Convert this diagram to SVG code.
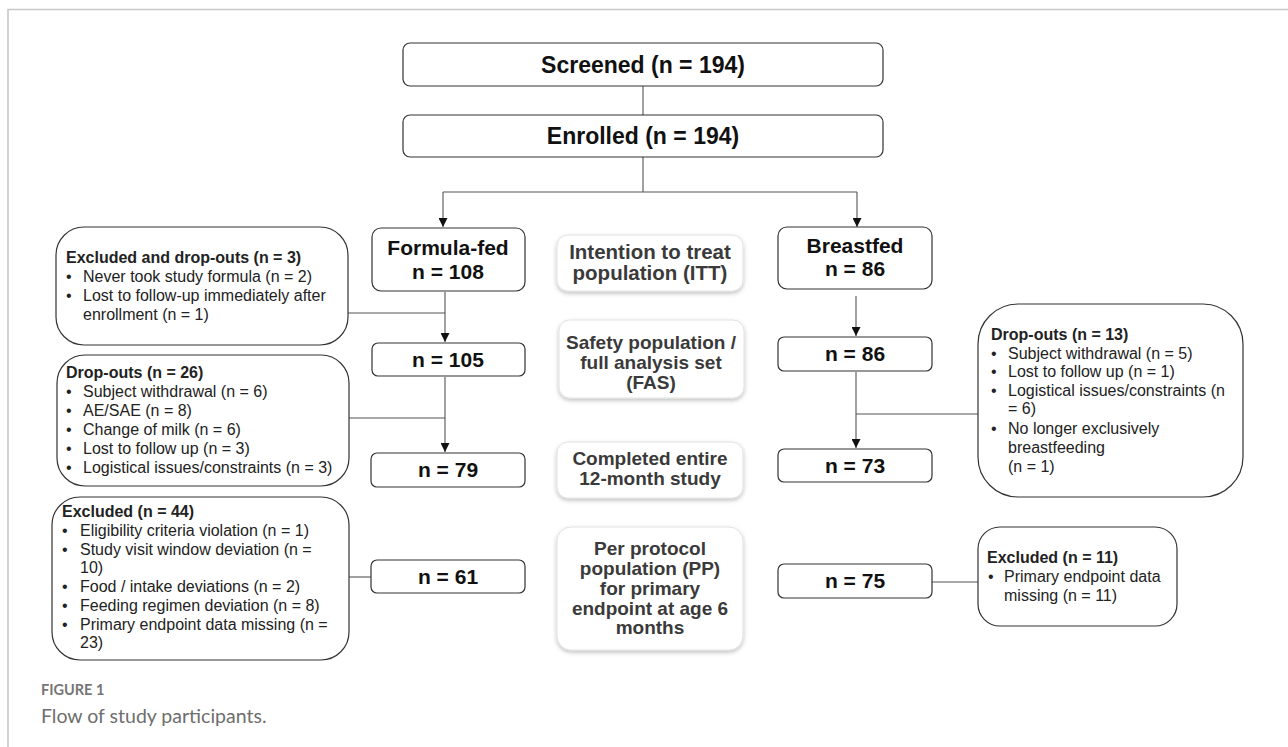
<svg xmlns="http://www.w3.org/2000/svg" width="1288" height="747" viewBox="0 0 1288 747">
<defs>
<marker id="arr" viewBox="0 0 10 10" refX="10" refY="5" markerWidth="9" markerHeight="9" markerUnits="userSpaceOnUse" orient="auto">
<path d="M0,0 L10,5 L0,10 z" fill="#111"/>
</marker>
<filter id="sh" x="-10%" y="-10%" width="120%" height="130%">
<feDropShadow dx="0" dy="2" stdDeviation="2" flood-color="#000" flood-opacity="0.25"/>
</filter>
</defs>
<style>
.box{fill:#fff;stroke:#333;stroke-width:1.2}
.lbl{fill:#fff;stroke:#e2e2e2;stroke-width:1}
.hd{font-family:"Liberation Sans",Arial,sans-serif;font-weight:bold;fill:#111;text-anchor:middle}
.ct{font-family:"Liberation Sans",Arial,sans-serif;font-weight:bold;fill:#3a3a3a;text-anchor:middle;font-size:19px}
.tx{font-family:"Liberation Sans",Arial,sans-serif;font-size:16px;fill:#222}
.tb{font-weight:bold}
.cn{fill:none;stroke:#555;stroke-width:1.1}
</style>
<rect width="1288" height="747" fill="#fff"/>
<path d="M8,747 L8,9.5 L1288,9.5" fill="none" stroke="#c8c8c8" stroke-width="1.6"/>

<g id="connectors">
<line class="cn" x1="643" y1="86" x2="643" y2="115"/>
<path class="cn" d="M643,157 L643,192 M443,192 L857,192"/>
<line class="cn" x1="443" y1="192" x2="443" y2="227" marker-end="url(#arr)"/>
<line class="cn" x1="857" y1="192" x2="857" y2="227" marker-end="url(#arr)"/>
<line class="cn" x1="445" y1="292" x2="445" y2="342" marker-end="url(#arr)"/>
<line class="cn" x1="348" y1="313" x2="445" y2="313"/>
<line class="cn" x1="445" y1="377" x2="445" y2="452" marker-end="url(#arr)"/>
<line class="cn" x1="349" y1="418" x2="445" y2="418"/>
<line class="cn" x1="349" y1="577" x2="371" y2="577"/>
<line class="cn" x1="856" y1="296" x2="856" y2="336" marker-end="url(#arr)"/>
<line class="cn" x1="856" y1="372" x2="856" y2="448" marker-end="url(#arr)"/>
<line class="cn" x1="856" y1="414" x2="978" y2="414"/>
<line class="cn" x1="932" y1="582" x2="978" y2="582"/>
</g>

<g id="screened">
<rect class="box" x="403" y="43" width="480" height="43" rx="7"/>
<text class="hd" x="643" y="73" font-size="23">Screened (n = 194)</text>
</g>
<g id="enrolled">
<rect class="box" x="403" y="115" width="480" height="42" rx="7"/>
<text class="hd" x="643" y="144" font-size="23">Enrolled (n = 194)</text>
</g>

<g id="formula-fed">
<rect class="box" x="372" y="228" width="153" height="63" rx="9"/>
<text class="hd" x="448" y="255" font-size="21">Formula-fed</text>
<text class="hd" x="448" y="279" font-size="21">n = 108</text>
</g>
<g id="ff-105">
<rect class="box" x="372" y="343" width="153" height="33" rx="6"/>
<text class="hd" x="448" y="367" font-size="21">n = 105</text>
</g>
<g id="ff-79">
<rect class="box" x="371" y="453" width="154" height="34" rx="6"/>
<text class="hd" x="448" y="477" font-size="21">n = 79</text>
</g>
<g id="ff-61">
<rect class="box" x="371" y="560" width="154" height="33" rx="6"/>
<text class="hd" x="448" y="584" font-size="21">n = 61</text>
</g>

<g id="breastfed">
<rect class="box" x="778" y="227" width="154" height="62" rx="9"/>
<text class="hd" x="855" y="253" font-size="21">Breastfed</text>
<text class="hd" x="855" y="276" font-size="21">n = 86</text>
</g>
<g id="bf-86">
<rect class="box" x="778" y="337" width="154" height="34" rx="6"/>
<text class="hd" x="855" y="361" font-size="21">n = 86</text>
</g>
<g id="bf-73">
<rect class="box" x="778" y="449" width="154" height="33" rx="6"/>
<text class="hd" x="855" y="473" font-size="21">n = 73</text>
</g>
<g id="bf-75">
<rect class="box" x="778" y="564" width="154" height="34" rx="6"/>
<text class="hd" x="855" y="588" font-size="21">n = 75</text>
</g>

<g id="itt">
<rect class="lbl" x="557" y="235" width="186" height="56" rx="11" filter="url(#sh)"/>
<text class="ct" x="650" y="259" font-size="20.5" style="font-size:20.5px">Intention to treat</text>
<text class="ct" x="650" y="280" style="font-size:20.5px">population (ITT)</text>
</g>
<g id="fas">
<rect class="lbl" x="559" y="320" width="185" height="78" rx="11" filter="url(#sh)"/>
<text class="ct" x="651" y="349">Safety population /</text>
<text class="ct" x="651" y="369">full analysis set</text>
<text class="ct" x="651" y="389">(FAS)</text>
</g>
<g id="completed">
<rect class="lbl" x="557" y="442" width="186" height="56" rx="11" filter="url(#sh)"/>
<text class="ct" x="650" y="465">Completed entire</text>
<text class="ct" x="650" y="485">12-month study</text>
</g>
<g id="pp">
<rect class="lbl" x="557" y="527" width="186" height="123" rx="14" filter="url(#sh)"/>
<text class="ct" x="650" y="555">Per protocol</text>
<text class="ct" x="650" y="575">population (PP)</text>
<text class="ct" x="650" y="595">for primary</text>
<text class="ct" x="650" y="615">endpoint at age 6</text>
<text class="ct" x="650" y="634">months</text>
</g>

<g id="excluded-3">
<rect class="box" x="56" y="227" width="292" height="118" rx="28"/>
<text class="tx tb" x="66" y="263">Excluded and drop-outs (n = 3)</text>
<text class="tx" x="66" y="282">•</text><text class="tx" x="83" y="282">Never took study formula (n = 2)</text>
<text class="tx" x="66" y="301">•</text><text class="tx" x="83" y="301">Lost to follow-up immediately after</text>
<text class="tx" x="83" y="320">enrollment (n = 1)</text>
</g>
<g id="dropouts-26">
<rect class="box" x="57" y="355" width="292" height="131" rx="28"/>
<text class="tx tb" x="66" y="378">Drop-outs (n = 26)</text>
<text class="tx" x="66" y="397">•</text><text class="tx" x="83" y="397">Subject withdrawal (n = 6)</text>
<text class="tx" x="66" y="416">•</text><text class="tx" x="83" y="416">AE/SAE (n = 8)</text>
<text class="tx" x="66" y="435">•</text><text class="tx" x="83" y="435">Change of milk (n = 6)</text>
<text class="tx" x="66" y="454">•</text><text class="tx" x="83" y="454">Lost to follow up (n = 3)</text>
<text class="tx" x="66" y="473">•</text><text class="tx" x="83" y="473">Logistical issues/constraints (n = 3)</text>
</g>
<g id="excluded-44">
<rect class="box" x="52" y="497" width="297" height="163" rx="28"/>
<text class="tx tb" x="62" y="517">Excluded (n = 44)</text>
<text class="tx" x="62" y="536">•</text><text class="tx" x="80" y="536">Eligibility criteria violation (n = 1)</text>
<text class="tx" x="62" y="555">•</text><text class="tx" x="80" y="555">Study visit window deviation (n =</text>
<text class="tx" x="80" y="573">10)</text>
<text class="tx" x="62" y="592">•</text><text class="tx" x="80" y="592">Food / intake deviations (n = 2)</text>
<text class="tx" x="62" y="611">•</text><text class="tx" x="80" y="611">Feeding regimen deviation (n = 8)</text>
<text class="tx" x="62" y="630">•</text><text class="tx" x="80" y="630">Primary endpoint data missing (n =</text>
<text class="tx" x="80" y="648">23)</text>
</g>
<g id="dropouts-13">
<rect class="box" x="978" y="304" width="265" height="193" rx="40"/>
<text class="tx tb" x="991" y="340">Drop-outs (n = 13)</text>
<text class="tx" x="991" y="359">•</text><text class="tx" x="1008" y="359">Subject withdrawal (n = 5)</text>
<text class="tx" x="991" y="377">•</text><text class="tx" x="1008" y="377">Lost to follow up (n = 1)</text>
<text class="tx" x="991" y="396">•</text><text class="tx" x="1008" y="396">Logistical issues/constraints (n</text>
<text class="tx" x="1008" y="414">= 6)</text>
<text class="tx" x="991" y="434">•</text><text class="tx" x="1008" y="434">No longer exclusively</text>
<text class="tx" x="1008" y="453">breastfeeding</text>
<text class="tx" x="1008" y="472">(n = 1)</text>
</g>
<g id="excluded-11">
<rect class="box" x="978" y="527" width="199" height="99" rx="22"/>
<text class="tx tb" x="987" y="563">Excluded (n = 11)</text>
<text class="tx" x="988" y="582">•</text><text class="tx" x="1004" y="582">Primary endpoint data</text>
<text class="tx" x="1004" y="601">missing (n = 11)</text>
</g>

<g id="caption">
<text x="41" y="695" font-family="Lato,'Open Sans',sans-serif" font-size="14.5" font-weight="bold" fill="#767676">FIGURE 1</text>
<text x="41" y="723" font-family="Lato,'Open Sans',sans-serif" font-size="19.5" fill="#6e6e6e">Flow of study participants.</text>
</g>
</svg>
